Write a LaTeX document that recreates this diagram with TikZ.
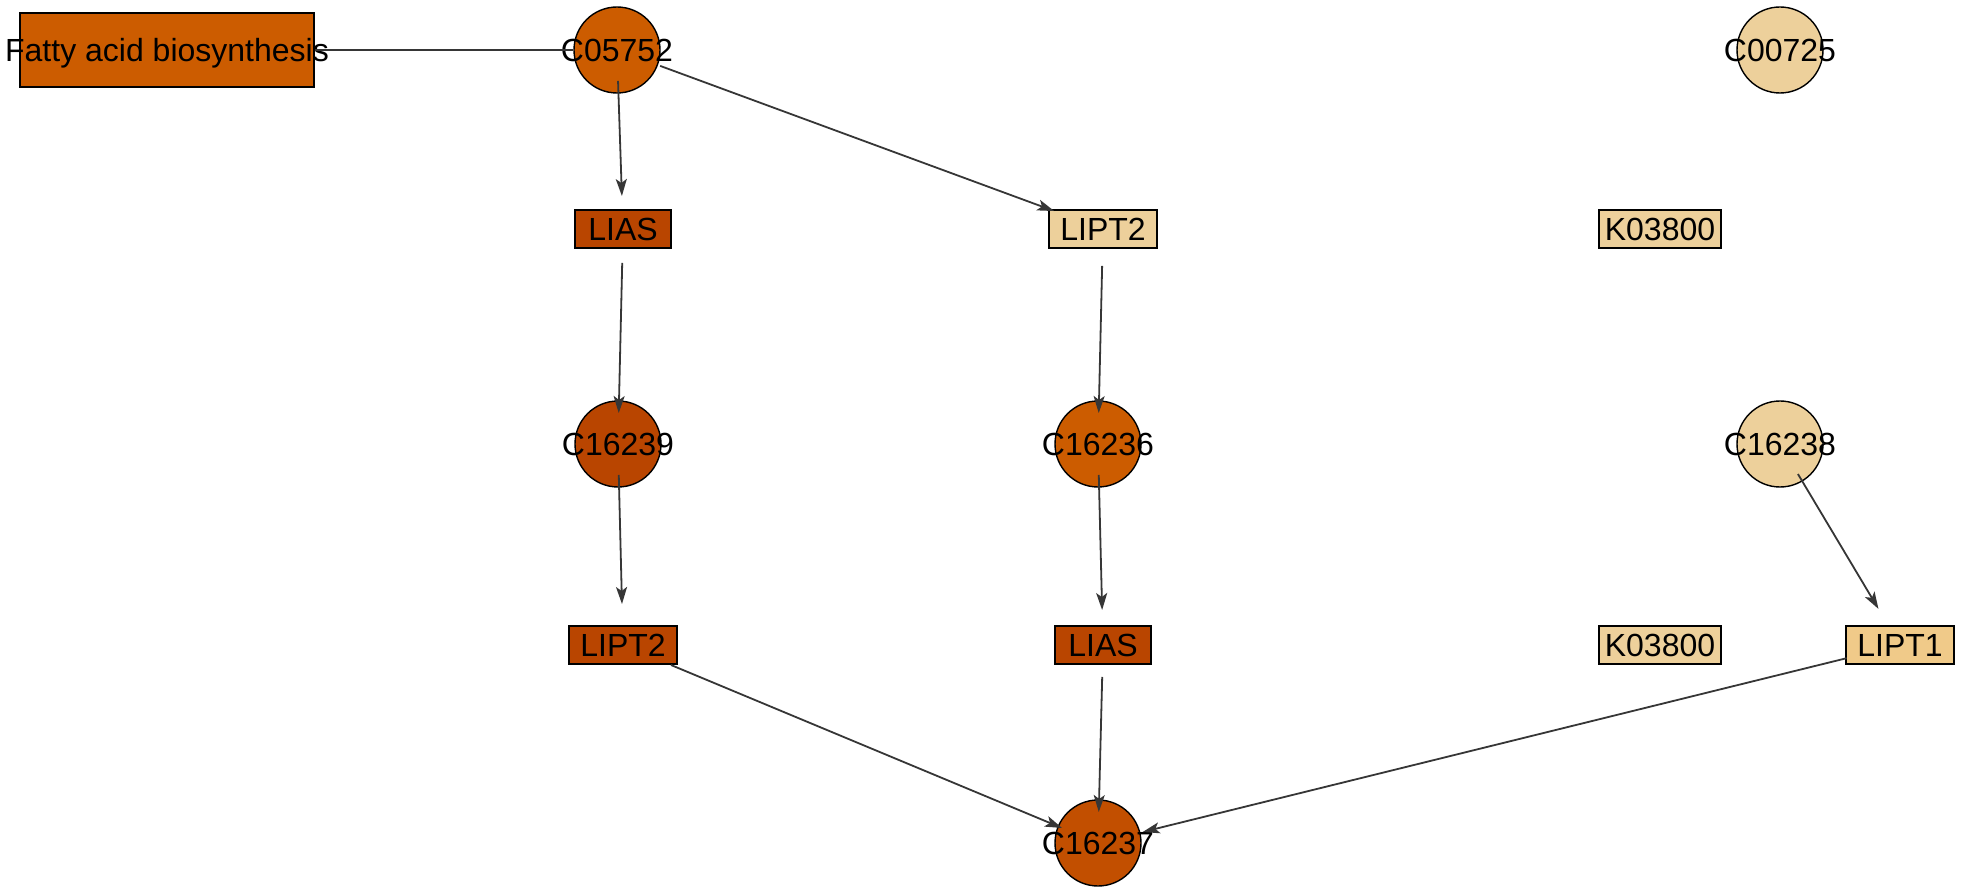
\documentclass[tikz,border=0pt]{standalone}
\usepackage{fontspec}
\setmainfont{Liberation Sans}
\usetikzlibrary{arrows.meta}
\definecolor{orA}{HTML}{CC5C00}
\definecolor{orB}{HTML}{B94500}
\definecolor{orC}{HTML}{C24F00}
\definecolor{tanA}{HTML}{EDD09B}
\definecolor{tanB}{HTML}{F0CA89}
\definecolor{edgegray}{HTML}{363636}
\begin{document}
\begin{tikzpicture}[x=1pt,y=-1pt,
  lbl/.style={font=\fontsize{32}{32}\selectfont,text height=23pt,text depth=0pt,inner sep=0pt},
  cpd/.style={circle,draw=black,line width=1.4pt,minimum size=86pt,inner sep=0pt},
  gene/.style={lbl,rectangle,draw=black,line width=1.4pt,minimum height=38pt,inner sep=0pt},
  rel/.style={draw=edgegray,line width=1.8pt,-{Stealth[length=17pt,width=11pt,inset=4pt]}},
  plain/.style={draw=edgegray,line width=1.8pt},
]
\useasboundingbox (0,0) rectangle (1963,890);
% nodes
\node[rectangle,draw=black,line width=1.4pt,fill=orA,minimum width=294pt,minimum height=74pt,inner sep=0pt] (fatty) at (167,50) {};
\node[lbl] (fattyT) at (fatty.center) {Fatty acid biosynthesis};
\node[cpd,fill=orA] (C05752) at (617,50) {};
\node[lbl] (C05752T) at (C05752.center) {C05752};
\node[cpd,fill=tanA] (C00725) at (1780,50) {};
\node[lbl] (C00725T) at (C00725.center) {C00725};
\node[gene,fill=orB,minimum width=96pt] (LIAS1) at (623,229) {LIAS};
\node[gene,fill=tanA,minimum width=108pt] (LIPT2a) at (1103,229) {LIPT2};
\node[gene,fill=tanA,minimum width=122pt] (K1) at (1660,229) {K03800};
\node[cpd,fill=orB] (C16239) at (618,444) {};
\node[lbl] (C16239T) at (C16239.center) {C16239};
\node[cpd,fill=orA] (C16236) at (1098,444) {};
\node[lbl] (C16236T) at (C16236.center) {C16236};
\node[cpd,fill=tanA] (C16238) at (1780,444) {};
\node[lbl] (C16238T) at (C16238.center) {C16238};
\node[gene,fill=orB,minimum width=108pt] (LIPT2b) at (623,645) {LIPT2};
\node[gene,fill=orB,minimum width=96pt] (LIAS2) at (1103,645) {LIAS};
\node[gene,fill=tanA,minimum width=122pt] (K2) at (1660,645) {K03800};
\node[gene,fill=tanB,minimum width=108pt] (LIPT1) at (1900,645) {LIPT1};
\node[cpd,fill=orC] (C16237) at (1098,843) {};
\node[lbl] (C16237T) at (C16237.center) {C16237};
% edges
\draw[plain] (fatty.east) -- (C05752.west);
\draw[rel,shorten <=31pt,shorten >=33pt] (C05752.center) -- (LIAS1.center);
\draw[rel,shorten <=46pt,shorten >=52pt] (C05752.center) -- (LIPT2a.center);
\draw[rel,shorten <=34pt,shorten >=31pt] (LIAS1.center) -- (C16239.center);
\draw[rel,shorten <=37pt,shorten >=31pt] (LIPT2a.center) -- (C16236.center);
\draw[rel,shorten <=31pt,shorten >=41pt] (C16239.center) -- (LIPT2b.center);
\draw[rel,shorten <=31pt,shorten >=35pt] (C16236.center) -- (LIAS2.center);
\draw[rel,shorten <=52pt,shorten >=39pt] (LIPT2b.center) -- (C16237.center);
\draw[rel,shorten <=32pt,shorten >=31pt] (LIAS2.center) -- (C16237.center);
\draw[rel,shorten <=55pt,shorten >=46pt] (LIPT1.center) -- (C16237.center);
\draw[rel,shorten <=35pt,shorten >=42pt] (C16238.center) -- (LIPT1.center);
\end{tikzpicture}
\end{document}
